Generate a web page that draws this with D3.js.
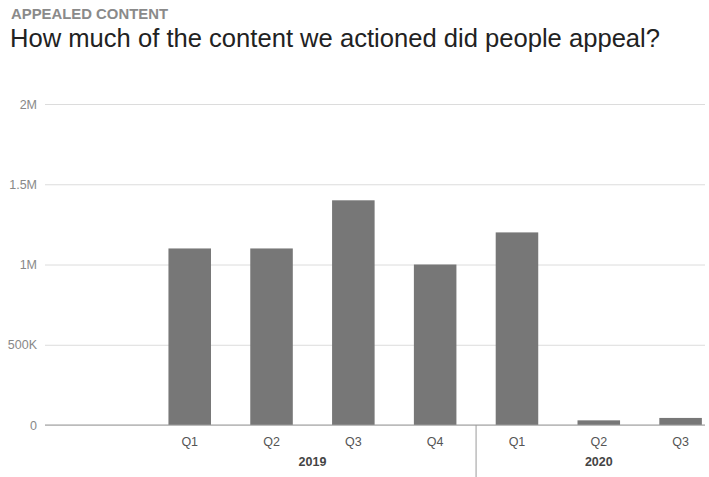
<!DOCTYPE html>
<html>
<head>
<meta charset="utf-8">
<script src="https://cdn.jsdelivr.net/npm/d3@7"></script>
<style>
  body { margin: 0; background: #fff; font-family: Arial, "Liberation Sans", sans-serif; }
</style>
</head>
<body>
<div id="container"></div>
<script>
/* chart data */
var keys = ["2018 Q4", "2019 Q1", "2019 Q2", "2019 Q3", "2019 Q4", "2020 Q1", "2020 Q2", "2020 Q3"]
var quarters = ["", "Q1", "Q2", "Q3", "Q4", "Q1", "Q2", "Q3"]
var years = ["2019", "2020"]
var appeals = [null, 1100000, 1100000, 1400000, 1000000, 1200000, 29000, 44000]
var yTicks = [0, 500000, 1000000, 1500000, 2000000]
var yTickLabels = ["0", "500K", "1M", "1.5M", "2M"]

var width = 709, height = 477
var plot = { left: 45, right: 705, top: 104, bottom: 425 }

var svg = d3.select("#container")
            .append("svg")
            .attr("width", width)
            .attr("height", height)

/* titles */
svg.append("text")
   .attr("x", 11).attr("y", 18.5)
   .attr("font-size", 15).attr("font-weight", "bold")
   .attr("fill", "#8a8a8a")
   .attr("textLength", 157).attr("lengthAdjust", "spacingAndGlyphs")
   .text("APPEALED CONTENT")

svg.append("text")
   .attr("x", 10).attr("y", 47)
   .attr("font-size", 25)
   .attr("fill", "#222")
   .attr("textLength", 650).attr("lengthAdjust", "spacingAndGlyphs")
   .text("How much of the content we actioned did people appeal?")

/* scales */
var x = d3.scaleBand()
          .domain(keys)
          .range([67, 721.5])
          .paddingInner(0.48)
          .paddingOuter(0.24)

var y = d3.scaleLinear()
          .domain([0, 2000000])
          .range([plot.bottom, plot.top])

/* gridlines + y labels */
var yAxis = d3.axisLeft(y)
              .tickValues(yTicks)
              .tickSize(-(plot.right - plot.left))
              .tickPadding(8)
              .tickFormat(function(d, i) { return yTickLabels[i] })

var gy = svg.append("g")
            .attr("transform", "translate(" + plot.left + ",0)")
            .call(yAxis)
gy.select(".domain").remove()
gy.selectAll("line").attr("stroke", "#dcdcdc")
gy.selectAll("text")
  .attr("fill", "#888").attr("font-size", 12.5)
  .attr("font-family", "Arial, 'Liberation Sans', sans-serif")

/* bars */
svg.selectAll(".bar")
   .data(keys.map(function(k, i) { return { key: k, value: appeals[i] } })
              .filter(function(d) { return d.value != null }))
   .enter().append("rect")
     .attr("class", "bar")
     .attr("x", function(d) { return x(d.key) })
     .attr("width", x.bandwidth())
     .attr("y", function(d) { return y(d.value) })
     .attr("height", function(d) { return y(0) - y(d.value) })
     .attr("fill", "#777")

/* baseline */
svg.append("line")
   .attr("x1", plot.left).attr("x2", plot.right)
   .attr("y1", y(0)).attr("y2", y(0))
   .attr("stroke", "#9a9a9a")

/* quarter labels */
svg.selectAll(".qlabel")
   .data(keys)
   .enter().append("text")
     .attr("class", "qlabel")
     .attr("x", function(d) { return x(d) + x.bandwidth() / 2 })
     .attr("y", 446)
     .attr("text-anchor", "middle")
     .attr("font-size", 12.5)
     .attr("fill", "#555")
     .text(function(d, i) { return quarters[i] })

/* year labels centred on their quarters */
years.forEach(function(yr) {
  var ks = keys.filter(function(k) { return k.indexOf(yr) === 0 })
  var x0 = x(ks[0]), x1 = x(ks[ks.length - 1]) + x.bandwidth()
  svg.append("text")
     .attr("x", (x0 + x1) / 2)
     .attr("y", 466)
     .attr("text-anchor", "middle")
     .attr("font-size", 12.5).attr("font-weight", "bold")
     .attr("fill", "#444")
     .text(yr)
})

/* separator between years */
var sepX = (x("2019 Q4") + x.bandwidth() + x("2020 Q1")) / 2
svg.append("line")
   .attr("x1", sepX).attr("x2", sepX)
   .attr("y1", y(0)).attr("y2", height)
   .attr("stroke", "#9a9a9a")
</script>
</body>
</html>
